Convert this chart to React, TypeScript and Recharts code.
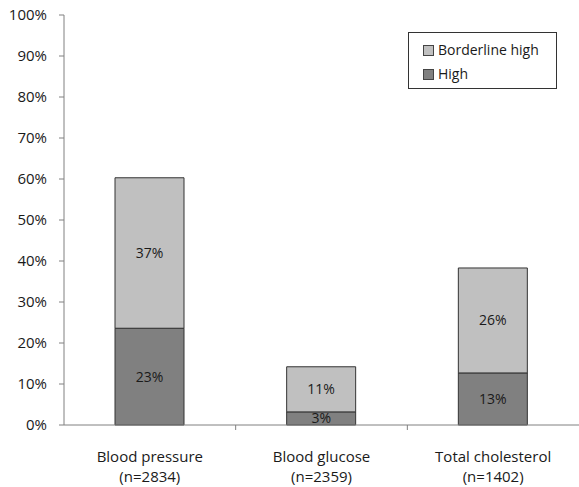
import { BarChart, Bar, XAxis, YAxis, LabelList } from 'recharts'

const categories = ['Blood pressure', 'Blood glucose', 'Total cholesterol']
const sampleSizes = ['(n=2834)', '(n=2359)', '(n=1402)']
const highValues = [23.6, 3.2, 12.7]
const borderlineValues = [36.7, 11.0, 25.6]
const highLabels = ['23%', '3%', '13%']
const borderlineLabels = ['37%', '11%', '26%']
const yTicks = [0, 10, 20, 30, 40, 50, 60, 70, 80, 90, 100]

const data = categories.map((name, i) => ({
  name,
  n: sampleSizes[i],
  high: highValues[i],
  borderline: borderlineValues[i],
  highLabel: highLabels[i],
  borderlineLabel: borderlineLabels[i],
}))

const font = '"Open Sans", sans-serif'
const axisColor = '#808080'

const CategoryTick = (props: any) => {
  const { x, y, payload, index } = props
  const half = payload && payload.offset ? payload.offset : 0
  const item = data[index] || data.find((d) => d.name === payload.value)
  return (
    <g>
      {index < categories.length - 1 && (
        <line x1={x + half} y1={y} x2={x + half} y2={y + 5} stroke={axisColor} />
      )}
      <text x={x} y={y} textAnchor="middle" fill="#1a1a1a" fontSize={15} fontFamily={font}>
        <tspan x={x} dy={37}>{payload.value}</tspan>
        <tspan x={x} dy={20}>{item ? item.n : ''}</tspan>
      </text>
    </g>
  )
}

const LegendBox = () => (
  <div
    style={{
      position: 'absolute',
      left: 408,
      top: 32,
      width: 147,
      height: 55,
      border: '1px solid #333',
      background: '#fff',
      fontFamily: font,
      fontSize: 14,
      color: '#1a1a1a',
      boxSizing: 'content-box',
    }}
  >
    {[
      { label: 'Borderline high', color: '#c0c0c0' },
      { label: 'High', color: '#808080' },
    ].map((it, i) => (
      <div
        key={it.label}
        style={{ position: 'absolute', left: 14, top: 8 + i * 24, display: 'flex', alignItems: 'center' }}
      >
        <span
          style={{
            display: 'inline-block',
            width: 9,
            height: 9,
            background: it.color,
            border: '1px solid #444',
            marginRight: 4,
          }}
        />
        <span style={{ lineHeight: '18px' }}>{it.label}</span>
      </div>
    ))}
  </div>
)

export default function App() {
  return (
    <div style={{ position: 'absolute', left: 0, top: 0, width: 579, height: 487, background: '#fff' }}>
      <BarChart
        width={579}
        height={487}
        data={data}
        margin={{ top: 15, right: 0, bottom: 0, left: 0 }}
        barSize={69}
      >
        <YAxis
          domain={[0, 100]}
          ticks={yTicks}
          width={64}
          tickSize={5}
          tickMargin={12}
          stroke={axisColor}
          tickFormatter={(v: number) => `${v}%`}
          tick={{ fill: '#1a1a1a', fontSize: 15, fontFamily: font }}
        />
        <XAxis
          dataKey="name"
          height={62}
          tickLine={false}
          tickSize={0}
          tickMargin={0}
          stroke={axisColor}
          interval={0}
          tick={<CategoryTick />}
        />
        <Bar dataKey="high" name="High" stackId="a" fill="#808080" stroke="#333" isAnimationActive={false}>
          <LabelList dataKey="highLabel" position="center" fill="#1a1a1a" fontSize={14} fontFamily={font} />
        </Bar>
        <Bar
          dataKey="borderline"
          name="Borderline high"
          stackId="a"
          fill="#c0c0c0"
          stroke="#333"
          isAnimationActive={false}
        >
          <LabelList dataKey="borderlineLabel" position="center" fill="#1a1a1a" fontSize={14} fontFamily={font} />
        </Bar>
      </BarChart>
      <LegendBox />
    </div>
  )
}
